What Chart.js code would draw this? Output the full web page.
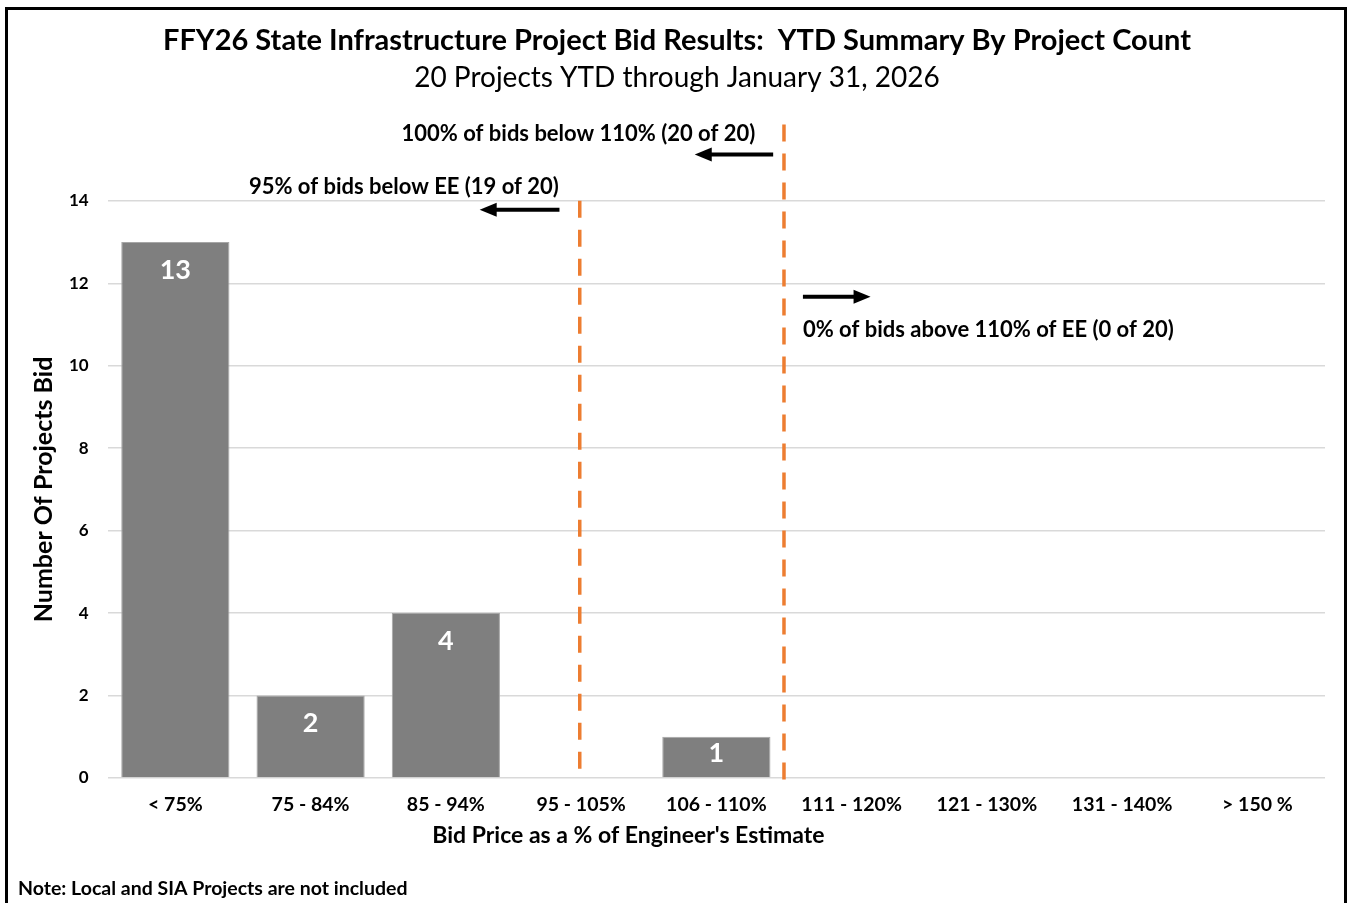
<!DOCTYPE html>
<html>
<head>
<meta charset="utf-8">
<script src="https://cdn.jsdelivr.net/npm/chart.js@4.4.1/dist/chart.umd.min.js"></script>
<style>
    body { margin: 0; background: #fff; }
    #frame {
        position: absolute; left: 5px; top: 7px; width: 1342px; height: 905px;
        border: 3px solid #000; border-bottom: none; box-sizing: border-box;
    }
    #wrap { position: absolute; left: 0; top: 0; width: 1352px; height: 903px; }
</style>
</head>
<body>
<div id="frame"></div>
<div id="wrap"><canvas id="bidChart" width="1352" height="903"></canvas></div>
<script>
const categories = ["< 75%", "75 - 84%", "85 - 94%", "95 - 105%", "106 - 110%", "111 - 120%", "121 - 130%", "131 - 140%", "> 150 %"];
const projectCounts = [13, 2, 4, 0, 1, 0, 0, 0, 0];
const yTicks = [0, 2, 4, 6, 8, 10, 12, 14];
const xTitle = "Bid Price as a % of Engineer's Estimate";

// marker lines: x in category index, y range in counts
const markerLines = [
    { x: 2.99, yFrom: 0, yTo: 14 },
    { x: 4.5, yFrom: -0.08, yTo: 15.85 }
];
// arrows: from/to in category index, y in counts
const arrows = [
    { from: 4.42, to: 3.84, y: 15.12 },
    { from: 2.84, to: 2.25, y: 13.78 },
    { from: 4.64, to: 5.14, y: 11.67 }
];
const notes = [
    { text: "100% of bids below 110% (20 of 20)", x: 2.98, y: 15.63, align: "center" },
    { text: "95% of bids below EE (19 of 20)", x: 1.69, y: 14.34, align: "center" },
    { text: "0% of bids above 110% of EE (0 of 20)", x: 4.64, y: 10.87, align: "left" }
];

const fontFamily = "Lato, 'Open Sans', sans-serif";

const overlayPlugin = {
    id: "overlay",
    afterDatasetsDraw(chart) {
        const ctx = chart.ctx;
        const xs = chart.scales.x;
        const ys = chart.scales.y;
        const meta = chart.getDatasetMeta(0);

        // value labels inside bars
        ctx.save();
        ctx.fillStyle = "#ffffff";
        ctx.font = "bold 27px " + fontFamily;
        ctx.textAlign = "center";
        ctx.textBaseline = "middle";
        meta.data.forEach((bar, i) => {
            if (!projectCounts[i]) return;
            const top = bar.y, bottom = bar.base;
            const y = Math.min(top + 28, (top + bottom) / 2 - 4);
            ctx.fillText(String(projectCounts[i]), bar.x, y);
        });
        ctx.restore();

        // dashed orange lines
        ctx.save();
        ctx.strokeStyle = "#ed7d31";
        ctx.lineWidth = 3.5;
        ctx.setLineDash([17, 12]);
        markerLines.forEach(m => {
            const x = xs.getPixelForValue(m.x);
            ctx.beginPath();
            ctx.moveTo(x, ys.getPixelForValue(m.yTo));
            ctx.lineTo(x, ys.getPixelForValue(m.yFrom));
            ctx.stroke();
        });
        ctx.restore();

        // arrows
        ctx.save();
        ctx.strokeStyle = "#000";
        ctx.fillStyle = "#000";
        ctx.lineWidth = 4;
        arrows.forEach(a => {
            const x1 = xs.getPixelForValue(a.from);
            const x2 = xs.getPixelForValue(a.to);
            const y = ys.getPixelForValue(a.y);
            const dir = x2 > x1 ? 1 : -1;
            ctx.beginPath();
            ctx.moveTo(x1, y);
            ctx.lineTo(x2 - dir * 12, y);
            ctx.stroke();
            ctx.beginPath();
            ctx.moveTo(x2, y);
            ctx.lineTo(x2 - dir * 17, y - 7);
            ctx.lineTo(x2 - dir * 17, y + 7);
            ctx.closePath();
            ctx.fill();
        });
        ctx.restore();

        // annotation text
        ctx.save();
        ctx.fillStyle = "#000";
        ctx.font = "bold 22px " + fontFamily;
        ctx.textBaseline = "middle";
        notes.forEach(n => {
            ctx.textAlign = n.align;
            ctx.fillText(n.text, xs.getPixelForValue(n.x), ys.getPixelForValue(n.y));
        });
        ctx.restore();

        // x axis title, sits left of the plot centre like the original
        ctx.save();
        ctx.fillStyle = "#000";
        ctx.font = "bold 23px " + fontFamily;
        ctx.textBaseline = "middle";
        ctx.textAlign = "center";
        ctx.fillText(xTitle, xs.getPixelForValue(3.35), 836);
        ctx.restore();

        // footnote
        ctx.save();
        ctx.fillStyle = "#000";
        ctx.font = "bold 19.5px " + fontFamily;
        ctx.textBaseline = "middle";
        ctx.textAlign = "left";
        ctx.fillText("Note: Local and SIA Projects are not included", 18, 889);
        ctx.restore();
    }
};

new Chart(document.getElementById("bidChart"), {
    type: "bar",
    data: {
        labels: categories,
        datasets: [
            {
                label: "Projects",
                data: projectCounts,
                backgroundColor: "#7f7f7f",
                borderColor: "#a6a6a6",
                borderWidth: 1,
                barPercentage: 0.8,
                categoryPercentage: 1.0
            }
        ]
    },
    options: {
        responsive: false,
        animation: false,
        layout: { padding: { left: 29, right: 27, top: 0, bottom: 53 } },
        plugins: {
            legend: { display: false },
            tooltip: { enabled: false },
            title: {
                display: true,
                text: "FFY26 State Infrastructure Project Bid Results:  YTD Summary By Project Count",
                color: "#000",
                font: { family: fontFamily, size: 29, weight: "bold" },
                padding: { top: 23.6, bottom: 2.8 }
            },
            subtitle: {
                display: true,
                text: "20 Projects YTD through January 31, 2026",
                color: "#000",
                font: { family: fontFamily, size: 28, weight: "normal" },
                padding: { top: 0, bottom: 106 }
            }
        },
        scales: {
            x: {
                grid: { display: false, drawTicks: false },
                border: { display: false },
                ticks: {
                    color: "#000",
                    padding: 15,
                    font: { family: fontFamily, size: 19.5, weight: "bold" }
                },
                title: {
                    // keeps the room; the text itself is drawn by the overlay plugin
                    display: true,
                    text: xTitle,
                    color: "rgba(0,0,0,0)",
                    font: { family: fontFamily, size: 23, weight: "bold" },
                    padding: { top: -9, bottom: 0 }
                }
            },
            y: {
                min: 0,
                max: 14,
                afterBuildTicks(scale) {
                    scale.ticks = yTicks.map(v => ({ value: v }));
                },
                grid: { color: "#d9d9d9", lineWidth: 1.5, drawTicks: false },
                border: { display: false },
                ticks: {
                    color: "#000",
                    padding: 19,
                    font: { family: fontFamily, size: 17, weight: "bold" }
                },
                title: {
                    display: true,
                    text: "Number Of Projects Bid",
                    color: "#000",
                    font: { family: fontFamily, size: 25, weight: "bold" },
                    padding: { top: 0, bottom: -9 }
                }
            }
        }
    },
    plugins: [overlayPlugin]
});
</script>
</body>
</html>
